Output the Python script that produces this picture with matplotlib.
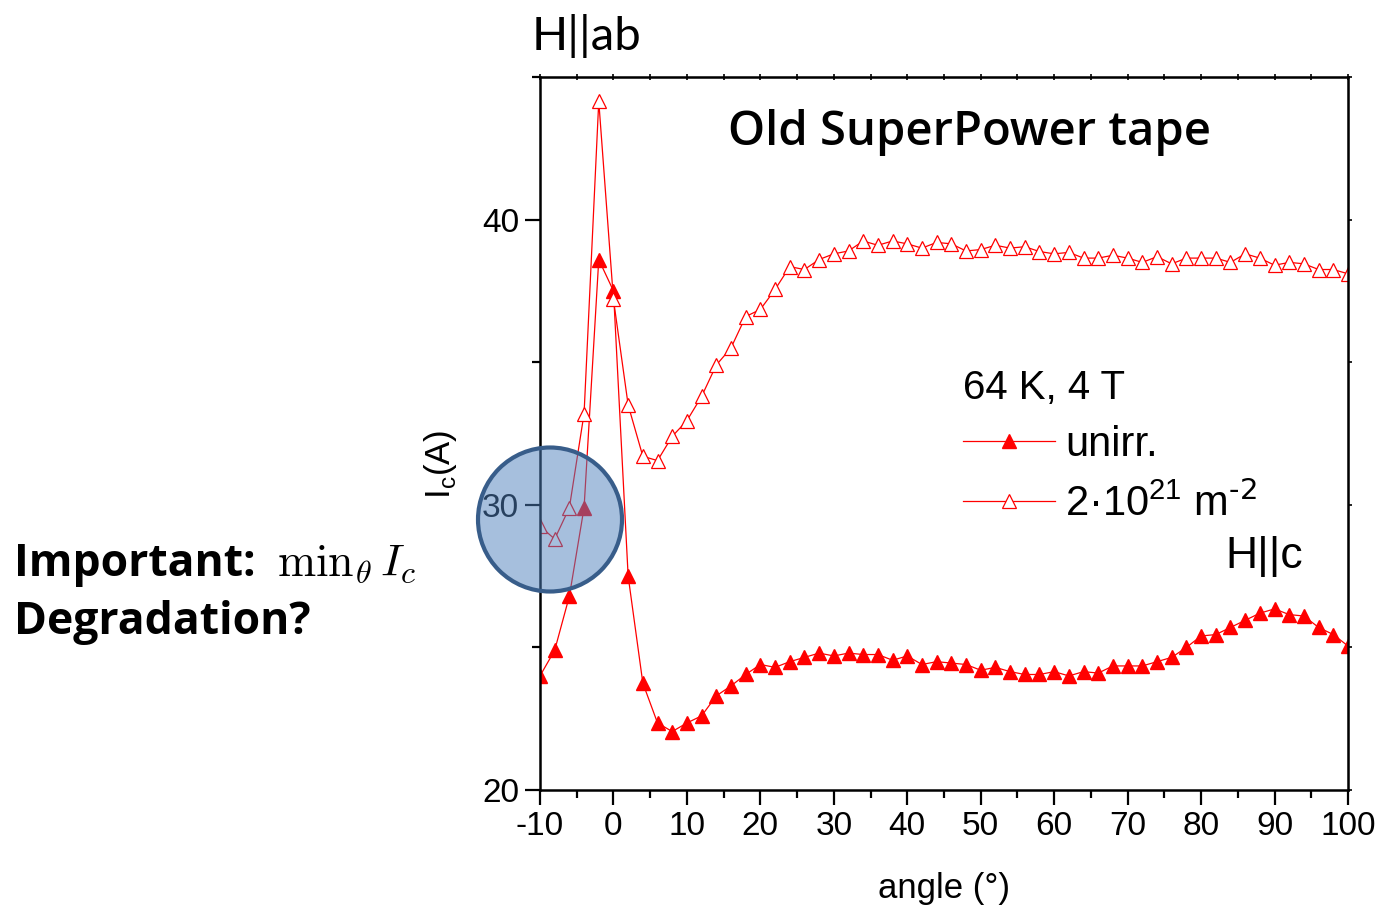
import matplotlib
matplotlib.use("Agg")
import matplotlib.pyplot as plt
from matplotlib.patches import Circle
from matplotlib.ticker import MultipleLocator


# Angular scan of the critical current, 64 K / 4 T
angle = [-10, -8, -6, -4, -2, 0, 2, 4, 6, 8, 10, 12, 14, 16, 18, 20, 22, 24,
         26, 28, 30, 32, 34, 36, 38, 40, 42, 44, 46, 48, 50, 52, 54, 56, 58,
         60, 62, 64, 66, 68, 70, 72, 74, 76, 78, 80, 82, 84, 86, 88, 90, 92,
         94, 96, 98, 100]

ic_unirr = [24.0, 24.9, 26.8, 29.9, 38.6, 37.5, 27.5, 23.75, 22.35, 22.05,
            22.35, 22.6, 23.3, 23.65, 24.05, 24.4, 24.3, 24.5, 24.65, 24.8,
            24.7, 24.8, 24.75, 24.75, 24.55, 24.7, 24.4, 24.5, 24.45, 24.4,
            24.2, 24.3, 24.15, 24.05, 24.05, 24.15, 24.0, 24.15, 24.1, 24.35,
            24.35, 24.35, 24.5, 24.65, 25.0, 25.4, 25.45, 25.7, 25.95, 26.2,
            26.35, 26.15, 26.1, 25.7, 25.45, 25.05]

ic_irr = [29.25, 28.8, 29.9, 33.2, 44.15, 37.2, 33.5, 31.7, 31.55, 32.4,
          32.95, 33.8, 34.9, 35.5, 36.6, 36.85, 37.55, 38.35, 38.25, 38.6,
          38.8, 38.9, 39.25, 39.1, 39.25, 39.15, 39.0, 39.2, 39.15, 38.9,
          38.95, 39.1, 39.0, 39.05, 38.88, 38.8, 38.85, 38.65, 38.65, 38.75,
          38.65, 38.5, 38.7, 38.45, 38.65, 38.65, 38.65, 38.5, 38.8, 38.65,
          38.4, 38.5, 38.45, 38.25, 38.25, 38.1]

x_ticks = [-10, 0, 10, 20, 30, 40, 50, 60, 70, 80, 90, 100]
y_ticks = [20, 30, 40]

W, H = 1384, 909


def fx(px):
    return px / W


def fy(py):
    return 1 - py / H


plt.rcParams['font.family'] = ['Liberation Sans', 'DejaVu Sans']
plt.rcParams['axes.unicode_minus'] = False

fig = plt.figure(figsize=(W / 100, H / 100), dpi=100)
ax = fig.add_axes([fx(540), fy(790), (1348 - 540) / W, (790 - 77) / H])

ax.plot(angle, ic_unirr, '-^', color='red', ms=10.5, lw=0.9,
        label='unirr.')
ax.plot(angle, ic_irr, '-^', color='red', mfc='white', mec='red',
        ms=10, mew=0.9, lw=0.9,
        label='2·10$^{\\mathregular{21}}$ m$^{\\text{-2}}$')

ax.set_xlim(-10, 100)
ax.set_ylim(20, 45)
ax.set_xticks(x_ticks)
ax.set_yticks(y_ticks)
ax.xaxis.set_minor_locator(MultipleLocator(5))
ax.yaxis.set_minor_locator(MultipleLocator(5))
ax.tick_params(which='major', direction='out', length=11, width=1.6,
               labelsize=24, pad=4)
ax.tick_params(which='minor', direction='out', length=6, width=1.6)
for sp in ax.spines.values():
    sp.set_linewidth(1.8)

# small ticks on the opposite sides
top = ax.secondary_xaxis('top')
top.set_xticks(x_ticks)
top.xaxis.set_minor_locator(MultipleLocator(5))
top.tick_params(which='both', direction='inout', length=4, width=1.2,
                labeltop=False)
right = ax.secondary_yaxis('right')
right.set_yticks(y_ticks)
right.yaxis.set_minor_locator(MultipleLocator(5))
right.tick_params(which='both', direction='out', length=3, width=1.2,
                  labelright=False)

ax.set_xlabel('angle (°)', fontsize=25, labelpad=22)
ax.set_ylabel('I$_\\mathregular{c}$(A)', fontsize=25)
ax.yaxis.set_label_coords(-0.1, 0.457)

leg = ax.legend(title='64 K, 4 T', loc='upper left',
                bbox_to_anchor=(fx(963), fy(369)),
                bbox_transform=fig.transFigure, frameon=False,
                fontsize=30, title_fontsize=29, handlelength=2.2,
                handletextpad=0.25, labelspacing=0.42, borderpad=0,
                borderaxespad=0, alignment='left')

fig.text(fx(532), fy(50), 'H||ab', fontsize=34, family='Lato',
         va='baseline')
fig.text(fx(970), fy(145), 'Old SuperPower tape', fontsize=34,
         family='Open Sans', weight='semibold', ha='center', va='baseline')
fig.text(fx(1225), fy(568), 'H||c', fontsize=32, va='baseline')

fig.text(fx(14), fy(576), 'Important:', fontsize=32, family='Open Sans',
         weight='bold', va='baseline')
fig.text(fx(277), fy(576), r'$\mathrm{min}_{\theta}\, I_c$', fontsize=33,
         math_fontfamily='cm', va='baseline')
fig.text(fx(14), fy(634), 'Degradation?', fontsize=32, family='Open Sans',
         weight='bold', va='baseline')

# highlight of the low-angle minimum
ring = Circle((550 / 100, (H - 519.5) / 100), 0.72,
              transform=fig.dpi_scale_trans,
              facecolor=(79 / 255, 129 / 255, 189 / 255, 0.5),
              edgecolor='#385D8A', linewidth=3)
fig.add_artist(ring)

fig.savefig('out.png', dpi=100)
